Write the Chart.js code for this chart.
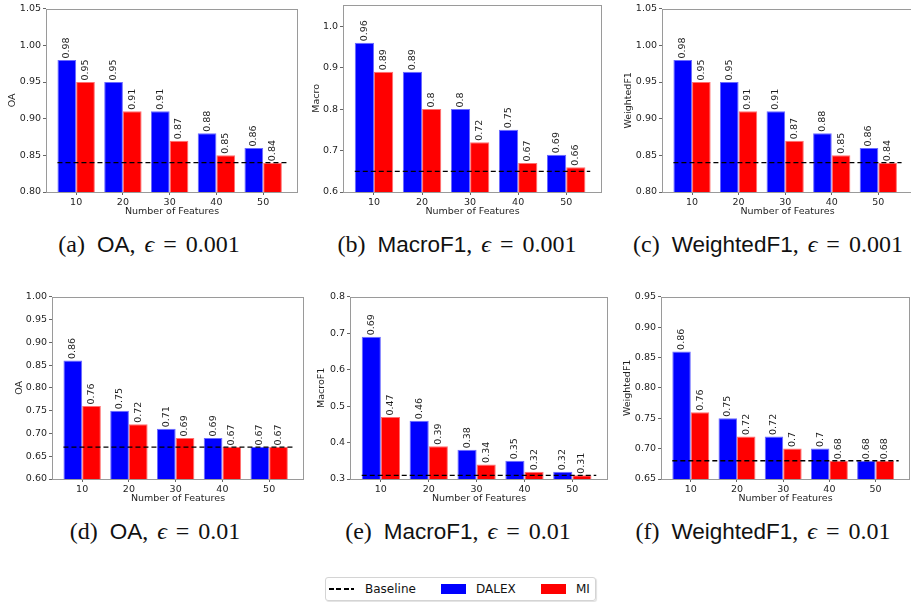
<!DOCTYPE html>
<html>
<head>
<meta charset="utf-8">
<script src="https://cdn.jsdelivr.net/npm/chart.js@4.4.1/dist/chart.umd.min.js"></script>
<style>
  html, body { margin: 0; padding: 0; background: #fff; overflow: hidden; }
  #fig { position: relative; width: 911px; height: 602px; }
  canvas { position: absolute; }
  .cap { position: absolute; width: 400px; text-align: center; white-space: nowrap; color: #111;
         font: 24px "Liberation Serif", "DejaVu Serif", serif; line-height: 24px; }
  .cap .sf { font-family: "Liberation Sans", "DejaVu Sans", sans-serif; font-size: 22.5px; margin-left: 12px; }
  .cap i { margin-left: 9px; }
  .cap .eq { margin: 0 9px; }
  #legend { position: absolute; left: 325px; top: 577px; width: 269px; height: 22px; border: 1px solid #d4d4d4;
            border-radius: 3px; box-shadow: 1px 1px 1px rgba(0,0,0,0.12); font: 12px "DejaVu Sans", sans-serif; color: #111; }
  #legend span { position: absolute; line-height: 22px; top: 0; }
  #legend .dash { top: 10px; width: 25px; height: 1.5px;
                  background: repeating-linear-gradient(90deg, #000 0 5px, transparent 5px 7.5px); }
  #legend .patch { top: 6px; width: 25px; height: 10px; }
</style>
</head>
<body>
<div id="fig">
  <canvas id="pa"></canvas><canvas id="pb"></canvas><canvas id="pc"></canvas>
  <canvas id="pd"></canvas><canvas id="pe"></canvas><canvas id="pf"></canvas>

  <div class="cap" style="left:-51px;top:232px">(a)<span class="sf">OA</span>,<i>ϵ</i><span class="eq">=</span>0.001</div>
  <div class="cap" style="left:257px;top:232px">(b)<span class="sf">MacroF1</span>,<i>ϵ</i><span class="eq">=</span>0.001</div>
  <div class="cap" style="left:568px;top:232px">(c)<span class="sf">WeightedF1</span>,<i>ϵ</i><span class="eq">=</span>0.001</div>
  <div class="cap" style="left:-45px;top:519px">(d)<span class="sf">OA</span>,<i>ϵ</i><span class="eq">=</span>0.01</div>
  <div class="cap" style="left:258px;top:519px">(e)<span class="sf">MacroF1</span>,<i>ϵ</i><span class="eq">=</span>0.01</div>
  <div class="cap" style="left:563px;top:519px">(f)<span class="sf">WeightedF1</span>,<i>ϵ</i><span class="eq">=</span>0.01</div>

  <div id="legend">
    <span class="dash" style="left:3px"></span>
    <span style="left:39px">Baseline</span>
    <span class="patch" style="left:115px;background:#0000ff"></span>
    <span style="left:150px">DALEX</span>
    <span class="patch" style="left:215px;background:#ff0000"></span>
    <span style="left:250px">MI</span>
  </div>
</div>

<script>
// number of features
const categories = ["10", "20", "30", "40", "50"];

// epsilon = 0.001
const oaDalex001 = [0.98, 0.95, 0.91, 0.88, 0.86];
const oaMi001 = [0.95, 0.91, 0.87, 0.85, 0.84];
const macroDalex001 = [0.96, 0.89, 0.8, 0.75, 0.69];
const macroMi001 = [0.89, 0.8, 0.72, 0.67, 0.66];
const weightedDalex001 = [0.98, 0.95, 0.91, 0.88, 0.86];
const weightedMi001 = [0.95, 0.91, 0.87, 0.85, 0.84];

// epsilon = 0.01
const oaDalex01 = [0.86, 0.75, 0.71, 0.69, 0.67];
const oaMi01 = [0.76, 0.72, 0.69, 0.67, 0.67];
const macroDalex01 = [0.69, 0.46, 0.38, 0.35, 0.32];
const macroMi01 = [0.47, 0.39, 0.34, 0.32, 0.31];
const weightedDalex01 = [0.86, 0.75, 0.72, 0.7, 0.68];
const weightedMi01 = [0.76, 0.72, 0.7, 0.68, 0.68];

const baselines = [0.84, 0.65, 0.84, 0.67, 0.31, 0.68];
const baselineSpan = [-0.4, 4.5];

const yLabels = ["OA", "Macro", "WeightedF1", "OA", "MacroF1", "WeightedF1"];
const yTicksA = ["0.80", "0.85", "0.90", "0.95", "1.00", "1.05"];
const yTicksB = ["0.6", "0.7", "0.8", "0.9", "1.0"];
const yTicksC = ["0.80", "0.85", "0.90", "0.95", "1.00", "1.05"];
const yTicksD = ["0.60", "0.65", "0.70", "0.75", "0.80", "0.85", "0.90", "0.95", "1.00"];
const yTicksE = ["0.3", "0.4", "0.5", "0.6", "0.7", "0.8"];
const yTicksF = ["0.65", "0.70", "0.75", "0.80", "0.85", "0.90", "0.95"];
const yLimits = [[0.8, 1.05], [0.6, 1.052], [0.8, 1.05], [0.6, 1.0], [0.3, 0.8], [0.65, 0.95]];
const xLimits = [-0.645, 4.745];

// where each plot sits on the page
const panels = [
  { id: "pa", dalex: oaDalex001, mi: oaMi001, ticks: yTicksA, L: 46, R: 298, T: 8, B: 192, tx: 13 },
  { id: "pb", dalex: macroDalex001, mi: macroMi001, ticks: yTicksB, L: 343, R: 602, T: 4, B: 192, tx: 317 },
  { id: "pc", dalex: weightedDalex001, mi: weightedMi001, ticks: yTicksC, L: 662, R: 913, T: 8, B: 192, tx: 629 },
  { id: "pd", dalex: oaDalex01, mi: oaMi01, ticks: yTicksD, L: 52, R: 304, T: 296, B: 479, tx: 20 },
  { id: "pe", dalex: macroDalex01, mi: macroMi01, ticks: yTicksE, L: 350, R: 608, T: 296, B: 479, tx: 322 },
  { id: "pf", dalex: weightedDalex01, mi: weightedMi01, ticks: yTicksF, L: 661, R: 910, T: 296, B: 479, tx: 627.5 },
];

const FONT = 9.5;
const PAD_TOP = 7, PAD_RIGHT = 4, X_AXIS_H = 25;

// frame round the plot + rotated value labels on top of the bars
const barExtras = {
  id: "barExtras",
  afterDatasetsDraw(chart) {
    const { ctx, chartArea: a } = chart;
    ctx.save();
    ctx.strokeStyle = "#9a9a9a";
    ctx.lineWidth = 1;
    ctx.strokeRect(Math.round(a.left) + 0.5, Math.round(a.top) + 0.5,
                   Math.round(a.right - a.left) - 1, Math.round(a.bottom - a.top));
    ctx.fillStyle = "#1e1e1e";
    ctx.font = FONT + "px 'DejaVu Sans'";
    ctx.textAlign = "left";
    ctx.textBaseline = "middle";
    chart.data.datasets.forEach((ds, i) => {
      const meta = chart.getDatasetMeta(i);
      if (meta.type !== "bar") return;
      meta.data.forEach((el, j) => {
        ctx.save();
        ctx.translate(el.x, el.y - 1.5);
        ctx.rotate(-Math.PI / 2);
        ctx.fillText(String(ds.data[j].y), 0, 0);
        ctx.restore();
      });
    });
    ctx.restore();
  }
};

Chart.defaults.font.family = "'DejaVu Sans', sans-serif";
Chart.defaults.font.size = FONT;
Chart.defaults.color = "#1e1e1e";

panels.forEach((p, k) => {
  const cl = Math.round(p.tx - FONT * 0.6);
  const canvas = document.getElementById(p.id);
  canvas.width = p.R - cl + PAD_RIGHT;
  canvas.height = PAD_TOP + (p.B - p.T) + X_AXIS_H;
  canvas.style.left = cl + "px";
  canvas.style.top = (p.T - PAD_TOP) + "px";

  new Chart(canvas, {
    type: "bar",
    data: {
      datasets: [
        {
          type: "line",
          label: "Baseline",
          data: baselineSpan.map(x => ({ x, y: baselines[k] })),
          borderColor: "#000",
          borderWidth: 1.3,
          borderDash: [5, 3],
          pointRadius: 0,
          order: 0,
        },
        {
          label: "DALEX",
          data: p.dalex.map((v, i) => ({ x: i, y: v })),
          backgroundColor: "#0000ff",
          borderColor: "#6b6bff",
          borderWidth: 1,
          order: 1,
        },
        {
          label: "MI",
          data: p.mi.map((v, i) => ({ x: i, y: v })),
          backgroundColor: "#ff0000",
          borderColor: "#ff7070",
          borderWidth: 1,
          order: 1,
        },
      ],
    },
    options: {
      responsive: false,
      animation: false,
      devicePixelRatio: 1,
      categoryPercentage: 0.8,
      barPercentage: 1,
      layout: { padding: { top: PAD_TOP, right: PAD_RIGHT, bottom: 0, left: 0 } },
      plugins: { legend: { display: false }, tooltip: { enabled: false } },
      scales: {
        x: {
          type: "linear",
          offset: false,
          min: xLimits[0],
          max: xLimits[1],
          grid: { offset: false, drawOnChartArea: false, tickLength: 3, tickColor: "#666" },
          border: { display: false },
          ticks: { padding: 2, callback: v => categories[v] },
          afterBuildTicks: s => { s.ticks = categories.map((c, i) => ({ value: i })); },
          afterFit: s => { s.height = X_AXIS_H; },
          title: { display: true, text: "Number of Features", padding: 0 },
        },
        y: {
          min: yLimits[k][0],
          max: yLimits[k][1],
          beginAtZero: false,
          bounds: "data",
          grid: { drawOnChartArea: false, tickLength: 3, tickColor: "#666" },
          border: { display: false },
          ticks: { padding: 2, callback: (v, i) => p.ticks[i] },
          afterBuildTicks: s => { s.ticks = p.ticks.map(t => ({ value: parseFloat(t) })); },
          afterFit: s => { s.width = p.L - cl; },
          title: { display: true, text: yLabels[k], padding: 0 },
        },
      },
    },
    plugins: [barExtras],
  });
});
</script>
</body>
</html>
